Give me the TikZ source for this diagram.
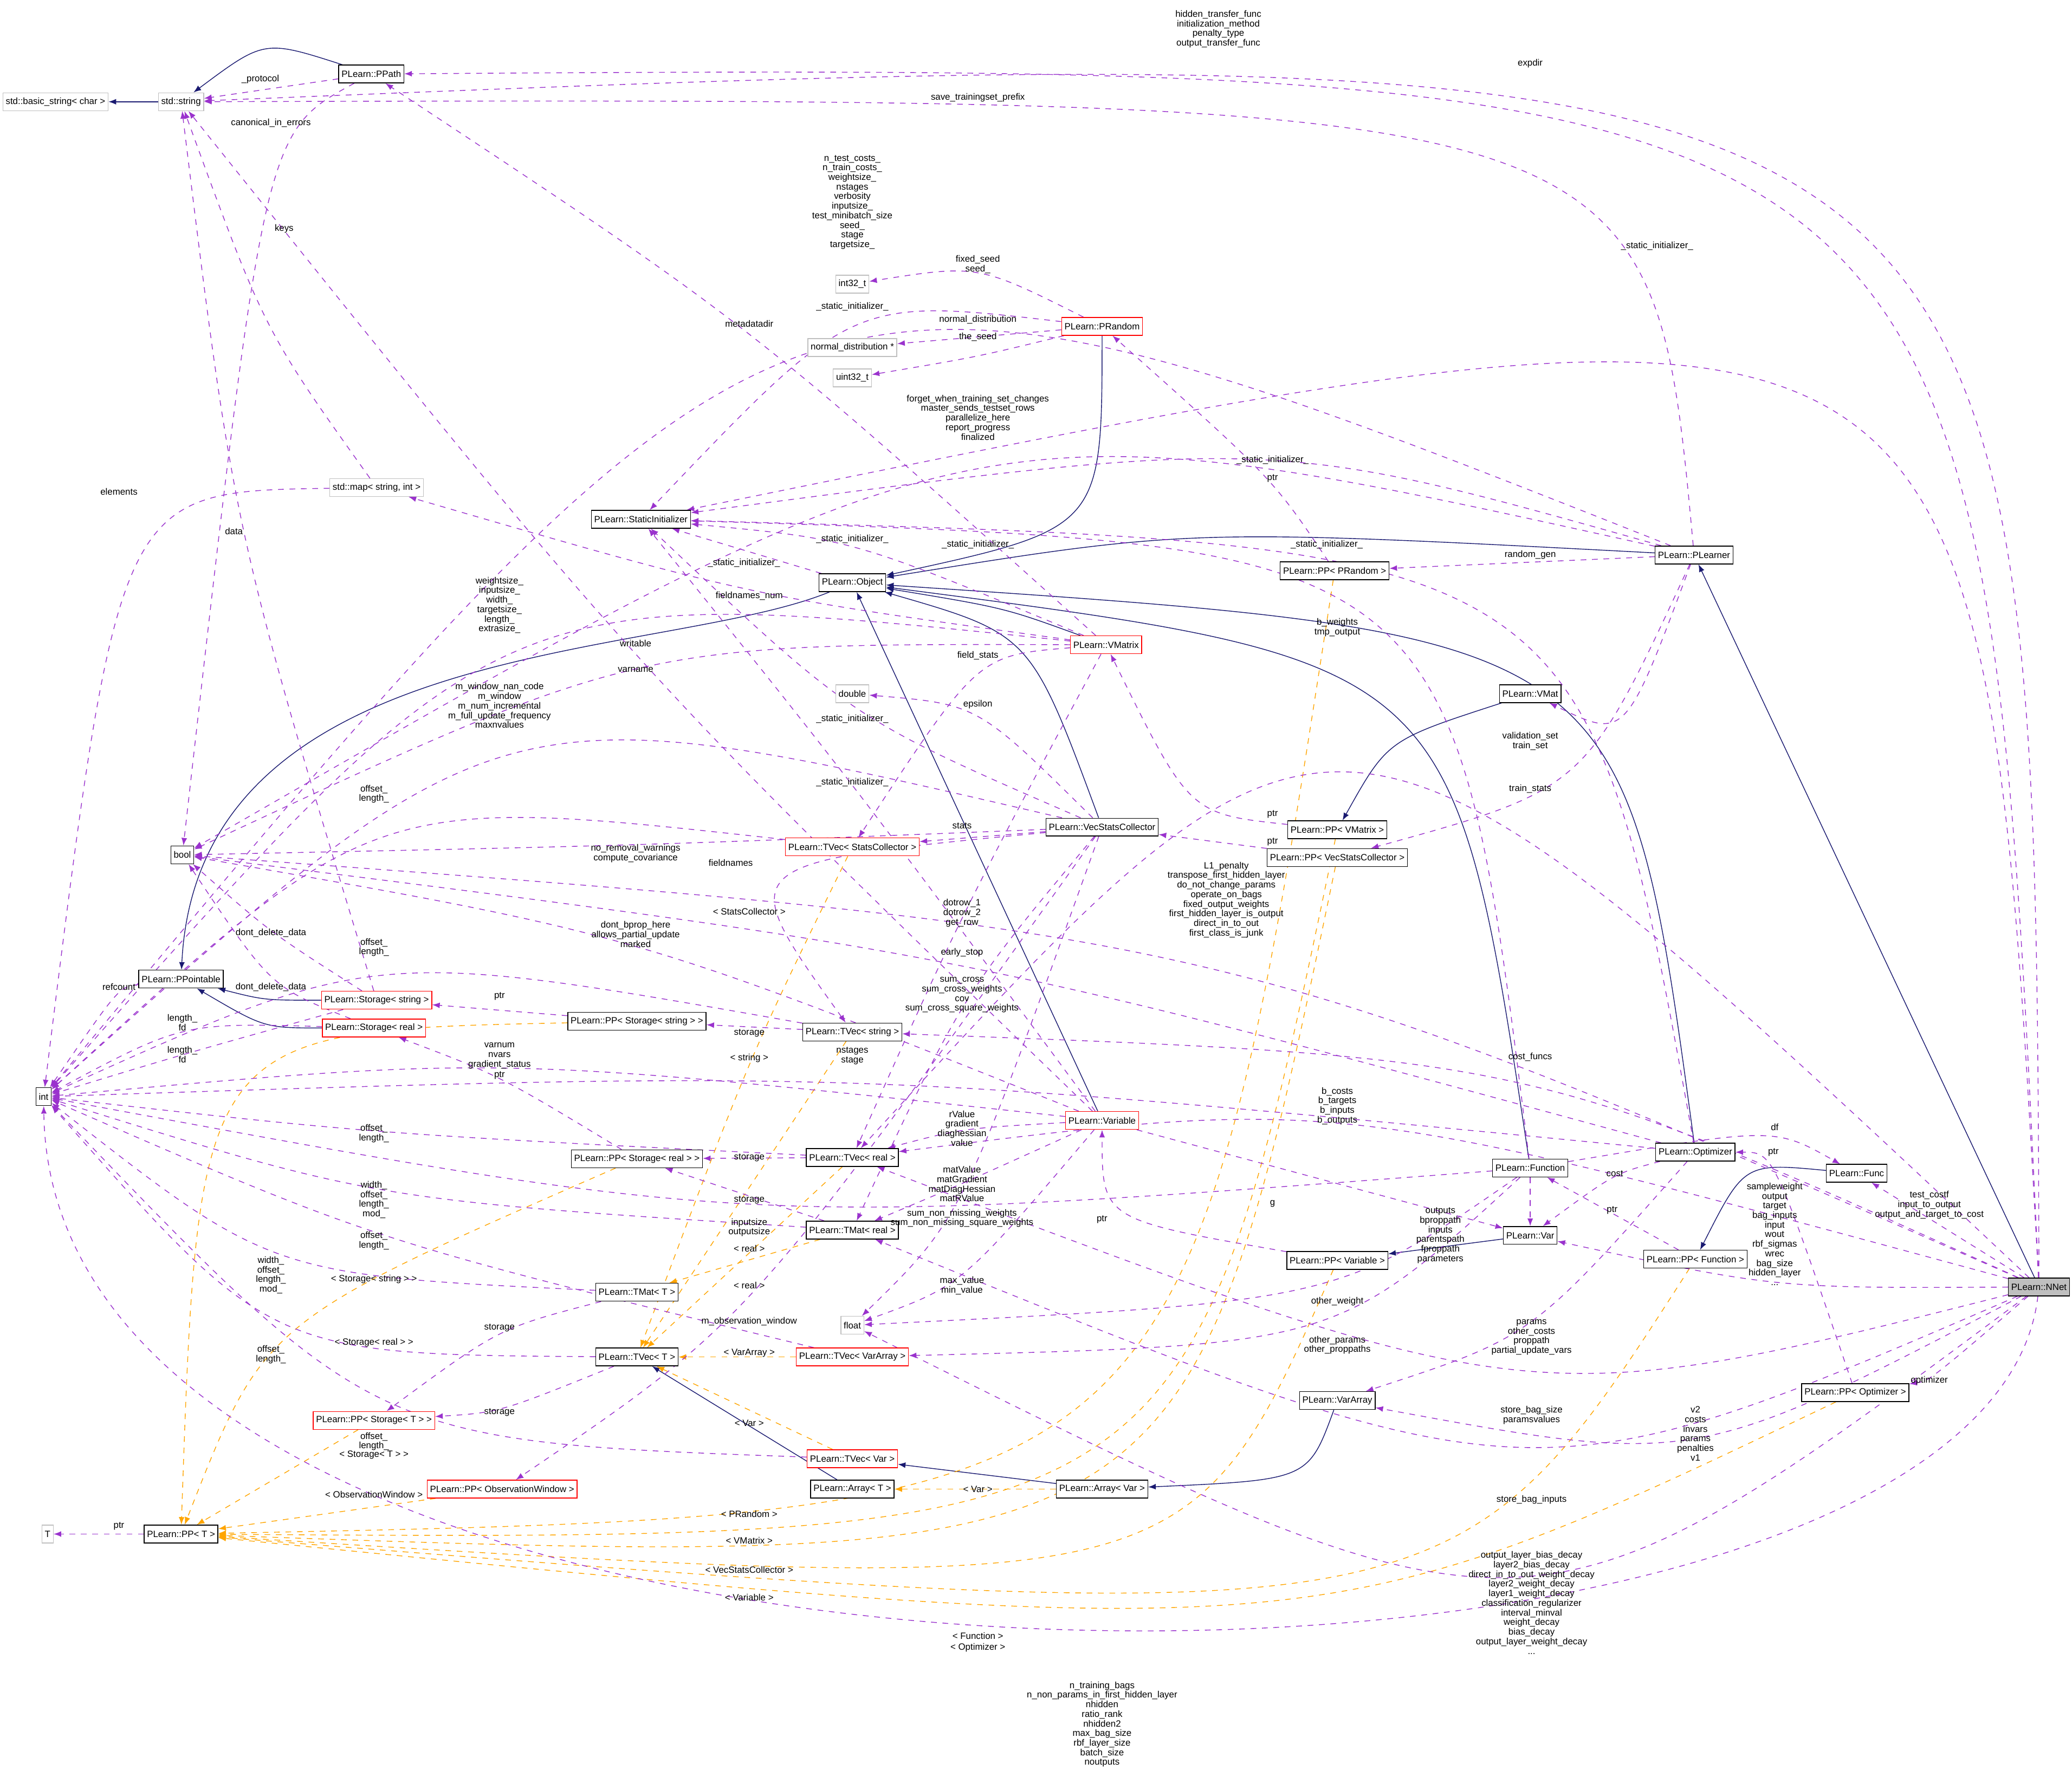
\documentclass[tikz,border=0pt]{standalone}
\usepackage{fontspec}
\setmainfont{Liberation Sans}
\usetikzlibrary{arrows.meta}
\definecolor{depcol}{HTML}{9A32CD}
\definecolor{tplcol}{HTML}{FFA500}
\definecolor{inhcol}{HTML}{191970}
\pgfdeclarelayer{background}
\pgfsetlayers{background,main}
\begin{document}
\begin{tikzpicture}[
x=0.0244cm, y=-0.0244cm,
every node/.style={font=\fontsize{4.8}{5.05}\selectfont},
cls/.style={rectangle, draw=black, fill=white, thin, inner sep=1.5pt, minimum height=0.33cm},
redcls/.style={cls, draw=red},
graycls/.style={cls, draw=gray!50},
curcls/.style={cls, fill=gray!50},
lbl/.style={align=center, inner sep=0pt},
dep/.style={-{Latex[length=4pt,width=3pt]}, draw=depcol, dashed, thin},
tpl/.style={-{Latex[length=4pt,width=3pt]}, draw=tplcol, dashed, thin},
inh/.style={-{Latex[length=4pt,width=3pt]}, draw=inhcol, thin}
]
\useasboundingbox (0,0) rectangle (1568,1339.5);

% nodes
\node[graycls](basic_string) at (42,77) {std::basic\_string< char >};
\node[graycls](std_string) at (137,77) {std::string};
\node[cls](ppath) at (281,56) {PLearn::PPath};
\node[graycls](int32) at (645,215) {int32\_t};
\node[graycls](normal_dist) at (645,263) {normal\_distribution *};
\node[graycls](uint32) at (645,286) {uint32\_t};
\node[redcls](prandom) at (834,247) {PLearn::PRandom};
\node[graycls](std_map) at (285,369) {std::map< string, int >};
\node[cls](static_init) at (485,393) {PLearn::StaticInitializer};
\node[cls](object) at (645,441) {PLearn::Object};
\node[cls](pp_prandom) at (1010,432) {PLearn::PP< PRandom >};
\node[cls](plearner) at (1282,420) {PLearn::PLearner};
\node[redcls](vmatrix) at (837,488) {PLearn::VMatrix};
\node[graycls](double) at (645,525) {double};
\node[cls](vmat) at (1158,525) {PLearn::VMat};
\node[cls](bool) at (138,647) {bool};
\node[redcls](tvec_stats) at (645,641) {PLearn::TVec< StatsCollector >};
\node[cls](vecstats) at (834,626) {PLearn::VecStatsCollector};
\node[cls](pp_vmatrix) at (1012,628) {PLearn::PP< VMatrix >};
\node[cls](pp_vecstats) at (1012,649) {PLearn::PP< VecStatsCollector >};
\node[cls](ppointable) at (137,741) {PLearn::PPointable};
\node[redcls](storage_string) at (285,757) {PLearn::Storage< string >};
\node[redcls](storage_real) at (283,778) {PLearn::Storage< real >};
\node[cls](pp_storage_string) at (482,773) {PLearn::PP< Storage< string > >};
\node[cls](tvec_string) at (645,781) {PLearn::TVec< string >};
\node[cls](int) at (33,830) {int};
\node[redcls](variable) at (834,848) {PLearn::Variable};
\node[cls](pp_storage_real) at (482,877) {PLearn::PP< Storage< real > >};
\node[cls](tvec_real) at (645,876) {PLearn::TVec< real >};
\node[cls](tmat_real) at (645,931) {PLearn::TMat< real >};
\node[cls](function) at (1158,884) {PLearn::Function};
\node[cls](optimizer) at (1283,872) {PLearn::Optimizer};
\node[cls](func) at (1405,888) {PLearn::Func};
\node[cls](var) at (1158,935) {PLearn::Var};
\node[cls](pp_variable) at (1012,954) {PLearn::PP< Variable >};
\node[cls](pp_function) at (1283,953) {PLearn::PP< Function >};
\node[curcls](nnet) at (1543,974) {PLearn::NNet};
\node[cls](tmat_t) at (482,978) {PLearn::TMat< T >};
\node[graycls](float) at (645,1003) {float};
\node[cls](tvec_t) at (482,1027) {PLearn::TVec< T >};
\node[redcls](tvec_vararray) at (645,1027) {PLearn::TVec< VarArray >};
\node[cls](vararray) at (1012,1060) {PLearn::VarArray};
\node[cls](pp_optimizer) at (1404,1054) {PLearn::PP< Optimizer >};
\node[redcls](pp_storage_t) at (283,1075) {PLearn::PP< Storage< T > >};
\node[redcls](tvec_var) at (645,1104) {PLearn::TVec< Var >};
\node[redcls](pp_obswin) at (380,1127) {PLearn::PP< ObservationWindow >};
\node[cls](array_t) at (645,1127) {PLearn::Array< T >};
\node[cls](array_var) at (834,1127) {PLearn::Array< Var >};
\node[graycls](t) at (36,1161) {T};
\node[cls](pp_t) at (137,1161) {PLearn::PP< T >};

\begin{pgfonlayer}{background}
% inheritance
\draw[inh](std_string) -- (basic_string);
\draw[inh](ppath) .. controls (200,30) .. (std_string);
\draw[inh](prandom) .. controls (834,400) .. (object);
\draw[inh](plearner) .. controls (900,400) .. (object);
\draw[inh](vmatrix) .. controls (760,460) .. (object);
\draw[inh](vecstats) .. controls (780,480) .. (object);
\draw[inh](variable) -- (object);
\draw[inh](function) .. controls (1100,500) .. (object);
\draw[inh](optimizer) .. controls (1230,480) .. (object);
\draw[inh](object) .. controls (500,500) and (150,480) .. (ppointable);
\draw[inh](storage_string) .. controls (200,757) .. (ppointable);
\draw[inh](storage_real) .. controls (200,778) .. (ppointable);
\draw[inh](nnet) -- (plearner);
\draw[inh](vmat) .. controls (1050,560) .. (pp_vmatrix);
\draw[inh](var) -- (pp_variable);
\draw[inh](func) .. controls (1320,880) .. (pp_function);
\draw[inh](array_t) -- (tvec_t);
\draw[inh](array_var) -- (tvec_var);
\draw[inh](vararray) .. controls (990,1120) .. (array_var);

% templates
\draw[tpl](tvec_stats) .. controls (567,800) .. (tvec_t);
\draw[tpl](tvec_string) -- (tvec_t);
\draw[tpl](tvec_real) -- (tvec_t);
\draw[tpl](tmat_real) -- (tmat_t);
\draw[tpl](tvec_vararray) -- (tvec_t);
\draw[tpl](tvec_var) -- (tvec_t);
\draw[tpl](array_var) -- (array_t);
\draw[tpl](pp_storage_string) .. controls (150,780) .. (pp_t);
\draw[tpl](pp_storage_real) .. controls (200,1000) .. (pp_t);
\draw[tpl](pp_storage_t) -- (pp_t);
\draw[tpl](pp_obswin) -- (pp_t);
\draw[tpl](pp_prandom) .. controls (900,1146) .. (pp_t);
\draw[tpl](pp_vmatrix) .. controls (900,1166) .. (pp_t);
\draw[tpl](pp_vecstats) .. controls (900,1188) .. (pp_t);
\draw[tpl](pp_variable) .. controls (900,1209) .. (pp_t);
\draw[tpl](pp_function) .. controls (1100,1238) .. (pp_t);
\draw[tpl](pp_optimizer) .. controls (1000,1247) .. (pp_t);

% usage
\draw[dep](ppath) -- (std_string);
\draw[dep](nnet) .. controls (1540,20) .. (std_string);
\draw[dep](nnet) .. controls (1500,48) .. (ppath);
\draw[dep](plearner) .. controls (1250,74) .. (std_string);
\draw[dep](ppath) .. controls (200,100) .. (bool);
\draw[dep](std_map) .. controls (200,250) .. (std_string);
\draw[dep](storage_string) .. controls (177,402) .. (std_string);
\draw[dep](prandom) .. controls (740,200) .. (int32);
\draw[dep](prandom) -- (normal_dist);
\draw[dep](prandom) .. controls (740,270) .. (uint32);
\draw[dep](prandom) .. controls (645,225) .. (static_init);
\draw[dep](nnet) .. controls (1500,186) .. (static_init);
\draw[dep](plearner) .. controls (963,330) .. (static_init);
\draw[dep](function) .. controls (1100,412) .. (static_init);
\draw[dep](optimizer) .. controls (1200,412) .. (static_init);
\draw[dep](vmatrix) .. controls (645,408) .. (static_init);
\draw[dep](object) -- (static_init);
\draw[dep](vecstats) .. controls (645,544) .. (static_init);
\draw[dep](variable) .. controls (645,592) .. (static_init);
\draw[dep](plearner) .. controls (600,150) .. (int);
\draw[dep](plearner) .. controls (740,300) .. (bool);
\draw[dep](plearner) -- (pp_prandom);
\draw[dep](plearner) .. controls (1230,560) .. (vmat);
\draw[dep](plearner) .. controls (1200,597) .. (pp_vecstats);
\draw[dep](pp_prandom) .. controls (963,362) .. (prandom);
\draw[dep](pp_vmatrix) .. controls (900,616) .. (vmatrix);
\draw[dep](pp_vecstats) -- (vecstats);
\draw[dep](vmatrix) .. controls (567,245) .. (ppath);
\draw[dep](vmatrix) .. controls (378,440) .. (int);
\draw[dep](vmatrix) .. controls (567,451) .. (std_map);
\draw[dep](vmatrix) .. controls (740,496) .. (tvec_stats);
\draw[dep](vmatrix) .. controls (481,487) .. (bool);
\draw[dep](vecstats) .. controls (553,653) .. (tvec_string);
\draw[dep](vecstats) .. controls (378,520) .. (int);
\draw[dep](variable) .. controls (481,507) .. (std_string);
\draw[dep](vecstats) -- (tvec_stats);
\draw[dep](vecstats) .. controls (481,640) .. (bool);
\draw[dep](vecstats) .. controls (740,533) .. (double);
\draw[dep](vecstats) .. controls (728,753) .. (tmat_real);
\draw[dep](vecstats) .. controls (567,1000) .. (pp_obswin);
\draw[dep](vecstats) .. controls (728,922) .. (float);
\draw[dep](vmatrix) .. controls (728,691) .. (tvec_real);
\draw[dep](optimizer) .. controls (728,721) .. (bool);
\draw[dep](tvec_stats) .. controls (283,601) .. (int);
\draw[dep](tvec_string) .. controls (283,717) .. (int);
\draw[dep](tvec_string) -- (pp_storage_string);
\draw[dep](variable) .. controls (481,707) .. (bool);
\draw[dep](storage_string) .. controls (205,706) .. (bool);
\draw[dep](storage_real) .. controls (205,747) .. (bool);
\draw[dep](ppointable) .. controls (90,747) .. (int);
\draw[dep](storage_real) .. controls (138,774) .. (int);
\draw[dep](storage_string) .. controls (138,798) .. (int);
\draw[dep](pp_storage_string) -- (storage_string);
\draw[dep](pp_storage_real) .. controls (378,814) .. (storage_real);
\draw[dep](variable) .. controls (378,799) .. (int);
\draw[dep](variable) .. controls (728,854) .. (tvec_real);
\draw[dep](variable) .. controls (728,896) .. (tmat_real);
\draw[dep](variable) .. controls (728,973) .. (float);
\draw[dep](variable) -- (var);
\draw[dep](tvec_real) .. controls (283,858) .. (int);
\draw[dep](tvec_real) -- (pp_storage_real);
\draw[dep](tmat_real) .. controls (283,908) .. (int);
\draw[dep](tmat_real) -- (pp_storage_real);
\draw[dep](tmat_t) .. controls (378,1005) .. (pp_storage_t);
\draw[dep](tmat_t) .. controls (205,965) .. (int);
\draw[dep](tvec_t) .. controls (205,1025) .. (int);
\draw[dep](tvec_t) .. controls (378,1069) .. (pp_storage_t);
\draw[dep](tvec_vararray) .. controls (283,939) .. (int);
\draw[dep](tvec_var) .. controls (283,1091) .. (int);
\draw[dep](function) -- (var);
\draw[dep](optimizer) .. controls (1222,888) .. (var);
\draw[dep](pp_function) -- (function);
\draw[dep](pp_optimizer) .. controls (1342,872) .. (optimizer);
\draw[dep](function) .. controls (1343,853) .. (func);
\draw[dep](nnet) -- (func);
\draw[dep](nnet) .. controls (1343,975) .. (var);
\draw[dep](nnet) .. controls (1460,1045) .. (pp_optimizer);
\draw[dep](nnet) .. controls (1283,1110) .. (vararray);
\draw[dep](nnet) .. controls (1159,1140) .. (tmat_real);
\draw[dep](nnet) .. controls (1159,1260) .. (float);
\draw[dep](nnet) .. controls (1500,1339) and (40,1339) .. (int);
\draw[dep](nnet) .. controls (928,705) .. (bool);
\draw[dep](nnet) .. controls (1158,800) .. (tvec_string);
\draw[dep](optimizer) .. controls (645,810) .. (int);
\draw[dep](nnet) .. controls (1012,830) .. (tvec_real);
\draw[dep](nnet) .. controls (1012,475) .. (tvec_real);
\draw[dep](optimizer) .. controls (1159,1012) .. (vararray);
\draw[dep](function) .. controls (1012,1018) .. (tvec_vararray);
\draw[dep](nnet) .. controls (1159,1071) .. (tvec_real);
\draw[dep](function) .. controls (1012,985) .. (float);
\draw[dep](pp_variable) .. controls (834,923) .. (variable);
\draw[dep](function) .. controls (567,929) .. (int);
\draw[dep](std_map) .. controls (90,372) .. (int);
\draw[dep](pp_t) -- (t);
\end{pgfonlayer}

% template labels
\node[lbl] at (567,690) {< StatsCollector >};
\node[lbl] at (567,801) {< string >};
\node[lbl] at (567,945) {< real >};
\node[lbl] at (567,973) {< real >};
\node[lbl] at (567,1024) {< VarArray >};
\node[lbl] at (567,1077) {< Var >};
\node[lbl] at (740,1127) {< Var >};
\node[lbl] at (283,968) {< Storage< string > >};
\node[lbl] at (283,1016) {< Storage< real > >};
\node[lbl] at (283,1101) {< Storage< T > >};
\node[lbl] at (283,1131) {< ObservationWindow >};
\node[lbl] at (567,1146) {< PRandom >};
\node[lbl] at (567,1166) {< VMatrix >};
\node[lbl] at (567,1188) {< VecStatsCollector >};
\node[lbl] at (567,1209) {< Variable >};
\node[lbl] at (740,1238) {< Function >};
\node[lbl] at (740,1247) {< Optimizer >};

% usage labels
\node[lbl] at (197,60) {\_protocol};
\node[lbl] at (922,22) {hidden\_transfer\_func\\initialization\_method\\penalty\_type\\output\_transfer\_func};
\node[lbl] at (1158,48) {expdir};
\node[lbl] at (740,74) {save\_trainingset\_prefix};
\node[lbl] at (205,93) {canonical\_in\_errors};
\node[lbl] at (215,173) {keys};
\node[lbl] at (177,402) {data};
\node[lbl] at (740,200) {fixed\_seed\\seed\_};
\node[lbl] at (740,242) {normal\_distribution};
\node[lbl] at (740,255) {the\_seed};
\node[lbl] at (645,232) {\_static\_initializer\_};
\node[lbl] at (1254,186) {\_static\_initializer\_};
\node[lbl] at (963,348) {\_static\_initializer\_};
\node[lbl] at (740,412) {\_static\_initializer\_};
\node[lbl] at (1004,412) {\_static\_initializer\_};
\node[lbl] at (645,408) {\_static\_initializer\_};
\node[lbl] at (563,426) {\_static\_initializer\_};
\node[lbl] at (645,544) {\_static\_initializer\_};
\node[lbl] at (645,592) {\_static\_initializer\_};
\node[lbl] at (645,153) {n\_test\_costs\_\\n\_train\_costs\_\\weightsize\_\\nstages\\verbosity\\inputsize\_\\test\_minibatch\_size\\seed\_\\stage\\targetsize\_};
\node[lbl] at (740,316) {forget\_when\_training\_set\_changes\\master\_sends\_testset\_rows\\parallelize\_here\\report\_progress\\finalized};
\node[lbl] at (1158,420) {random\_gen};
\node[lbl] at (1158,561) {validation\_set\\train\_set};
\node[lbl] at (1158,597) {train\_stats};
\node[lbl] at (963,362) {ptr};
\node[lbl] at (963,616) {ptr};
\node[lbl] at (963,637) {ptr};
\node[lbl] at (567,245) {metadatadir};
\node[lbl] at (378,458) {weightsize\_\\inputsize\_\\width\_\\targetsize\_\\length\_\\extrasize\_};
\node[lbl] at (567,451) {fieldnames\_num};
\node[lbl] at (740,496) {field\_stats};
\node[lbl] at (481,487) {writable};
\node[lbl] at (553,653) {fieldnames};
\node[lbl] at (378,534) {m\_window\_nan\_code\\m\_window\\m\_num\_incremental\\m\_full\_update\_frequency\\maxnvalues};
\node[lbl] at (481,507) {varname};
\node[lbl] at (728,625) {stats};
\node[lbl] at (481,646) {no\_removal\_warnings\\compute\_covariance};
\node[lbl] at (740,533) {epsilon};
\node[lbl] at (728,753) {sum\_cross\\sum\_cross\_weights\\cov\\sum\_cross\_square\_weights};
\node[lbl] at (567,1000) {m\_observation\_window};
\node[lbl] at (728,922) {sum\_non\_missing\_weights\\sum\_non\_missing\_square\_weights};
\node[lbl] at (728,691) {dotrow\_1\\dotrow\_2\\get\_row};
\node[lbl] at (728,721) {early\_stop};
\node[lbl] at (283,601) {offset\_\\length\_};
\node[lbl] at (283,717) {offset\_\\length\_};
\node[lbl] at (567,782) {storage};
\node[lbl] at (481,707) {dont\_bprop\_here\\allows\_partial\_update\\marked};
\node[lbl] at (205,706) {dont\_delete\_data};
\node[lbl] at (205,747) {dont\_delete\_data};
\node[lbl] at (90,747) {refcount};
\node[lbl] at (138,774) {length\_\\fd};
\node[lbl] at (138,798) {length\_\\fd};
\node[lbl] at (378,754) {ptr};
\node[lbl] at (378,814) {ptr};
\node[lbl] at (378,799) {varnum\\nvars\\gradient\_status};
\node[lbl] at (728,854) {rValue\\gradient\\diaghessian\\value};
\node[lbl] at (728,896) {matValue\\matGradient\\matDiagHessian\\matRValue};
\node[lbl] at (728,973) {max\_value\\min\_value};
\node[lbl] at (963,911) {g};
\node[lbl] at (283,858) {offset\_\\length\_};
\node[lbl] at (567,876) {storage};
\node[lbl] at (283,908) {width\_\\offset\_\\length\_\\mod\_};
\node[lbl] at (567,908) {storage};
\node[lbl] at (378,1005) {storage};
\node[lbl] at (205,965) {width\_\\offset\_\\length\_\\mod\_};
\node[lbl] at (205,1025) {offset\_\\length\_};
\node[lbl] at (378,1069) {storage};
\node[lbl] at (283,939) {offset\_\\length\_};
\node[lbl] at (283,1091) {offset\_\\length\_};
\node[lbl] at (1090,935) {outputs\\bproppath\\inputs\\parentspath\\fproppath\\parameters};
\node[lbl] at (1222,888) {cost};
\node[lbl] at (1220,916) {ptr};
\node[lbl] at (1342,872) {ptr};
\node[lbl] at (1343,853) {df};
\node[lbl] at (1460,912) {test\_costf\\input\_to\_output\\output\_and\_target\_to\_cost};
\node[lbl] at (1343,934) {sampleweight\\output\\target\\bag\_inputs\\input\\wout\\rbf\_sigmas\\wrec\\bag\_size\\hidden\_layer\\...};
\node[lbl] at (1460,1045) {optimizer};
\node[lbl] at (1283,1085) {v2\\costs\\invars\\params\\penalties\\v1};
\node[lbl] at (1159,1135) {store\_bag\_inputs};
\node[lbl] at (1159,1213) {output\_layer\_bias\_decay\\layer2\_bias\_decay\\direct\_in\_to\_out\_weight\_decay\\layer2\_weight\_decay\\layer1\_weight\_decay\\classification\_regularizer\\interval\_minval\\weight\_decay\\bias\_decay\\output\_layer\_weight\_decay\\...};
\node[lbl] at (834,1305) {n\_training\_bags\\n\_non\_params\_in\_first\_hidden\_layer\\nhidden\\ratio\_rank\\nhidden2\\max\_bag\_size\\rbf\_layer\_size\\batch\_size\\noutputs};
\node[lbl] at (928,681) {L1\_penalty\\transpose\_first\_hidden\_layer\\do\_not\_change\_params\\operate\_on\_bags\\fixed\_output\_weights\\first\_hidden\_layer\_is\_output\\direct\_in\_to\_out\\first\_class\_is\_junk};
\node[lbl] at (1158,800) {cost\_funcs};
\node[lbl] at (645,799) {nstages\\stage};
\node[lbl] at (1012,837) {b\_costs\\b\_targets\\b\_inputs\\b\_outputs};
\node[lbl] at (1012,475) {b\_weights\\tmp\_output};
\node[lbl] at (1159,1012) {params\\other\_costs\\proppath\\partial\_update\_vars};
\node[lbl] at (1012,1018) {other\_params\\other\_proppaths};
\node[lbl] at (1159,1071) {store\_bag\_size\\paramsvalues};
\node[lbl] at (1012,985) {other\_weight};
\node[lbl] at (834,923) {ptr};
\node[lbl] at (567,929) {inputsize\\outputsize};
\node[lbl] at (90,372) {elements};
\node[lbl] at (90,1155) {ptr};
\end{tikzpicture}
\end{document}
